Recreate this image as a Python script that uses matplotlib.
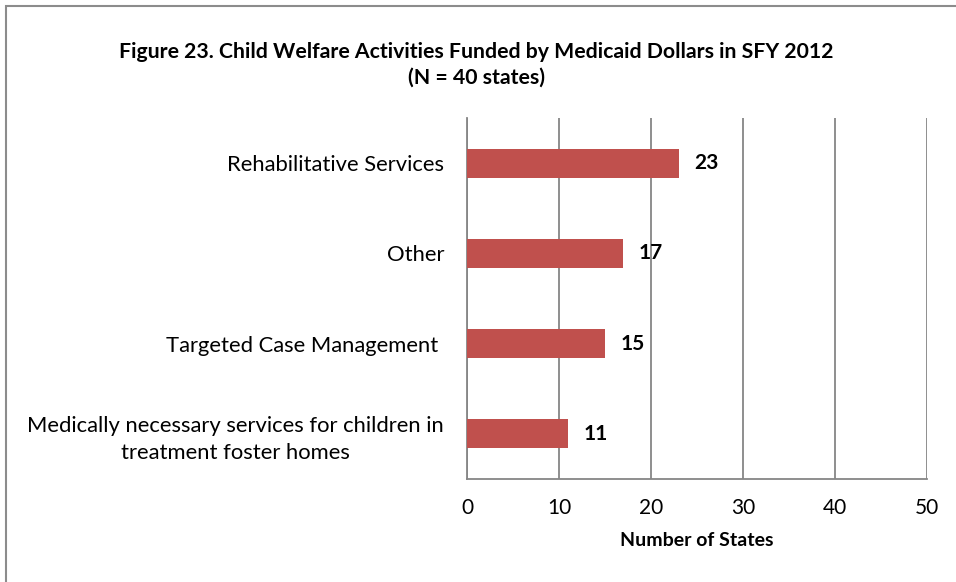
import matplotlib.pyplot as plt
from matplotlib.patches import Rectangle

plt.rcParams['font.family'] = ['Lato', 'DejaVu Sans']

categories = [
    "Rehabilitative Services",
    "Other",
    "Targeted Case Management ",
    "Medically necessary services for children in\ntreatment foster homes",
]
states = [23, 17, 15, 11]
x_ticks = [0, 10, 20, 30, 40, 50]

bar_color = "#C0504D"
grid_color = "#868686"

fig = plt.figure(figsize=(9.56, 5.82), dpi=100)

# chart frame: only the top and left edges fall inside the image
fig.patches.append(Rectangle((6 / 956, -0.1), 1.2, (582 - 6) / 582 + 0.1,
                             transform=fig.transFigure, fill=False,
                             edgecolor="#8c8c8c", linewidth=1.5))

ax = fig.add_axes([467 / 956, 1 - 479 / 582, 460 / 956, 361 / 582])

ypos = list(range(len(categories)))
ax.barh(ypos, states, height=0.32, color=bar_color, zorder=3)
for y, v in zip(ypos, states):
    ax.text(v + 1.7, y, str(v), va="center", ha="left",
            fontsize=15, fontweight="bold", color="black")

ax.set_xlim(0, 50)
ax.set_ylim(len(categories) - 0.5, -0.5)
ax.set_xticks(x_ticks)
ax.set_yticks(ypos)
ax.set_yticklabels(categories, fontsize=15.8, multialignment="center",
                   linespacing=1.45)
ax.tick_params(axis="x", length=0, pad=14, labelsize=15)
ax.tick_params(axis="y", length=0, pad=16.5)
ax.xaxis.grid(True, color=grid_color, linewidth=1.3, zorder=0)

for side in ["top", "right"]:
    ax.spines[side].set_visible(False)
for side in ["left", "bottom"]:
    ax.spines[side].set_color(grid_color)
    ax.spines[side].set_linewidth(1.3)

ax.set_xlabel("Number of States", fontsize=14, fontweight="bold", labelpad=10)

fig.text(476 / 956, 1 - 52 / 582,
         "Figure 23. Child Welfare Activities Funded by Medicaid Dollars in SFY 2012",
         ha="center", va="center", fontsize=15.3, fontweight="bold")
fig.text(476 / 956, 1 - 78 / 582, "(N = 40 states)",
         ha="center", va="center", fontsize=15.3, fontweight="bold")

fig.savefig("out.png", dpi=100)
